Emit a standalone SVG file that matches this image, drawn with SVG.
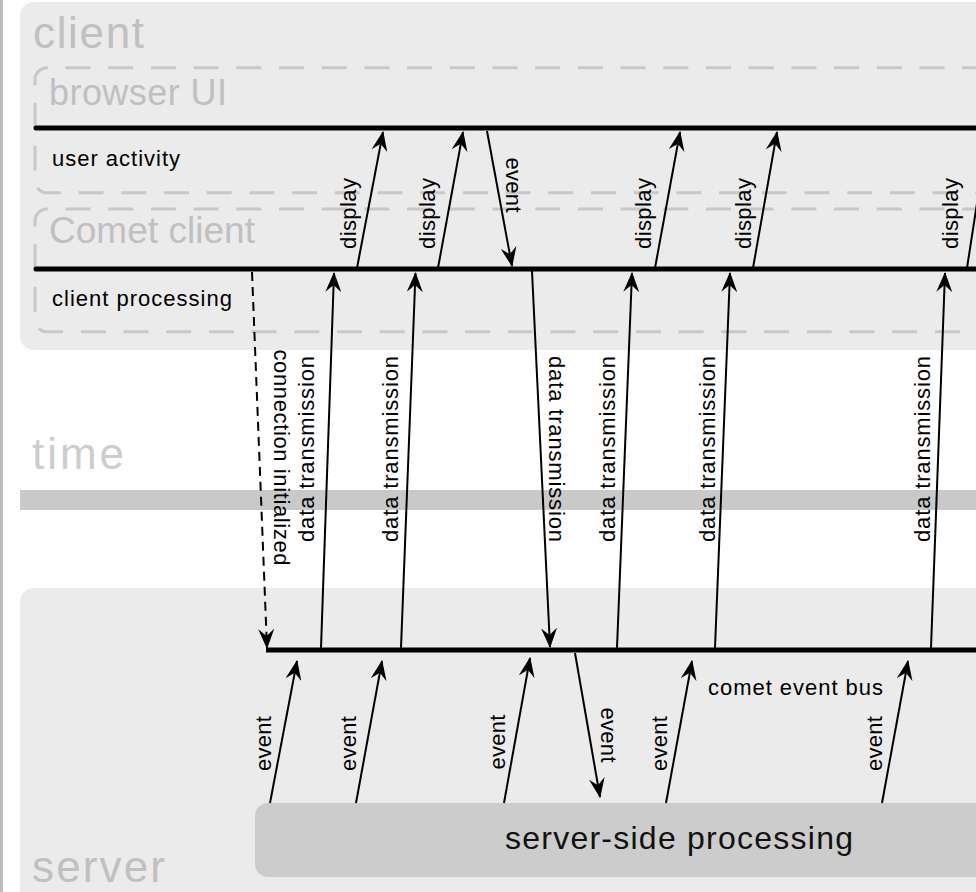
<svg xmlns="http://www.w3.org/2000/svg" width="976" height="892" viewBox="0 0 976 892">
<style>
.panel{fill:#ebebeb;}
.lane{fill:none;stroke:#c8c8c8;stroke-width:3;stroke-dasharray:25 17.7;}
.bar{stroke:#000;stroke-width:5;stroke-linecap:round;fill:none;}
.big{font-family:"Liberation Sans",Arial,sans-serif;fill:#c0c0c0;}
.lbl{font-family:"Liberation Sans",Arial,sans-serif;font-size:22px;fill:#000;}
.c{stroke:#000;stroke-width:2;fill:none;marker-end:url(#ah);}
.cd{stroke:#000;stroke-width:2;fill:none;stroke-dasharray:9 6;marker-end:url(#ah);}
</style>
<defs>
<marker id="ah" markerUnits="userSpaceOnUse" viewBox="0 0 20 16" markerWidth="20" markerHeight="16" refX="19" refY="8" orient="auto">
<path d="M20,8 L0,0 L7,8 L0,16 Z" fill="#000"/>
</marker>
</defs>
<rect x="0" y="0" width="976" height="892" fill="#fff"/>
<rect x="0" y="0" width="3" height="892" fill="#bdbdbd"/>

<g id="client">
<rect class="panel" x="20" y="2" width="1000" height="348" rx="14"/>
<text class="big" x="33" y="48" font-size="44" textLength="111">client</text>
</g>

<g id="browser-ui">
<path class="lane" d="M1969.3,67.7 H47 A12,12 0 0 0 35,79.7 V180.7 A12,12 0 0 0 47,192.7 H1969"/>
<text class="big" x="49" y="105" font-size="36" textLength="178">browser UI</text>
<line class="bar" x1="36" y1="128" x2="1000" y2="128"/>
<text class="lbl" x="52" y="166" font-size="23" textLength="128">user activity</text>
</g>

<g id="comet-client">
<path class="lane" d="M1969.3,209 H47 A12,12 0 0 0 35,221 V319.7 A12,12 0 0 0 47,331.7 H1969"/>
<text class="big" x="49" y="243" font-size="37" textLength="206">Comet client</text>
<line class="bar" x1="36" y1="269" x2="1000" y2="269"/>
<text class="lbl" x="52" y="306" font-size="23" textLength="180">client processing</text>
</g>

<g id="time">
<rect x="20" y="490" width="1000" height="20" fill="#c9c9c9"/>
<text x="32" y="469" font-family="Liberation Sans, Arial, sans-serif" font-size="44" textLength="92" fill="#cdcdcd">time</text>
</g>

<g id="server">
<rect class="panel" x="20" y="588" width="1000" height="400" rx="14"/>
<text class="big" x="32" y="882" font-size="44" textLength="133">server</text>
</g>

<g id="comet-event-bus">
<line class="bar" x1="266" y1="650" x2="1000" y2="650" style="stroke-linecap:butt"/>
<text class="lbl" x="708" y="695" textLength="175">comet event bus</text>
</g>

<g id="server-side-processing">
<rect x="255" y="803" width="800" height="74" rx="13" fill="#cccccc"/>
<text x="679" y="849" font-family="Liberation Sans, Arial, sans-serif" font-size="32" fill="#111" text-anchor="middle" textLength="348">server-side processing</text>
</g>

<g id="connectors">
<line class="cd" x1="252" y1="272" x2="267" y2="648"/>
<line class="c" x1="321" y1="648" x2="334" y2="273"/>
<line class="c" x1="401" y1="648" x2="415.5" y2="273"/>
<line class="c" x1="532" y1="271" x2="550" y2="647"/>
<line class="c" x1="617" y1="648" x2="632" y2="273"/>
<line class="c" x1="715" y1="648" x2="730" y2="273"/>
<line class="c" x1="931" y1="648" x2="945" y2="273"/>
<line class="c" x1="357" y1="268" x2="383" y2="132"/>
<line class="c" x1="438" y1="268" x2="463" y2="132"/>
<line class="c" x1="487" y1="131" x2="512" y2="266"/>
<line class="c" x1="655" y1="268" x2="680" y2="132"/>
<line class="c" x1="753" y1="268" x2="777" y2="132"/>
<line class="c" x1="967" y1="268" x2="988" y2="132"/>
<line class="c" x1="270" y1="803" x2="297" y2="661"/>
<line class="c" x1="356" y1="803" x2="382" y2="661"/>
<line class="c" x1="504" y1="803" x2="530" y2="658"/>
<line class="c" x1="575" y1="653" x2="600" y2="797"/>
<line class="c" x1="666" y1="803" x2="692" y2="661"/>
<line class="c" x1="882" y1="803" x2="908" y2="661"/>

<g class="lbl" text-anchor="middle">
<text transform="translate(273.5,457.5) rotate(90)" textLength="216">connection initialized</text>
<text transform="translate(314,449) rotate(-90)" textLength="186">data transmission</text>
<text transform="translate(398,449) rotate(-90)" textLength="186">data transmission</text>
<text transform="translate(548.5,449) rotate(90)" textLength="186">data transmission</text>
<text transform="translate(614.5,449) rotate(-90)" textLength="186">data transmission</text>
<text transform="translate(715,449) rotate(-90)" textLength="186">data transmission</text>
<text transform="translate(930,449) rotate(-90)" textLength="186">data transmission</text>

<text transform="translate(355.5,213.5) rotate(-90)" textLength="71">display</text>
<text transform="translate(434.5,213.5) rotate(-90)" textLength="71">display</text>
<text transform="translate(506,185) rotate(90)" textLength="55">event</text>
<text transform="translate(650.5,213.5) rotate(-90)" textLength="71">display</text>
<text transform="translate(750.5,213.5) rotate(-90)" textLength="71">display</text>
<text transform="translate(958,213.5) rotate(-90)" textLength="71">display</text>

<text transform="translate(271,743.5) rotate(-90)" textLength="55">event</text>
<text transform="translate(356,743.5) rotate(-90)" textLength="55">event</text>
<text transform="translate(504.5,742) rotate(-90)" textLength="55">event</text>
<text transform="translate(601,735) rotate(90)" textLength="55">event</text>
<text transform="translate(667,743.5) rotate(-90)" textLength="55">event</text>
<text transform="translate(882,743.5) rotate(-90)" textLength="55">event</text>
</g>
</g>
</svg>
